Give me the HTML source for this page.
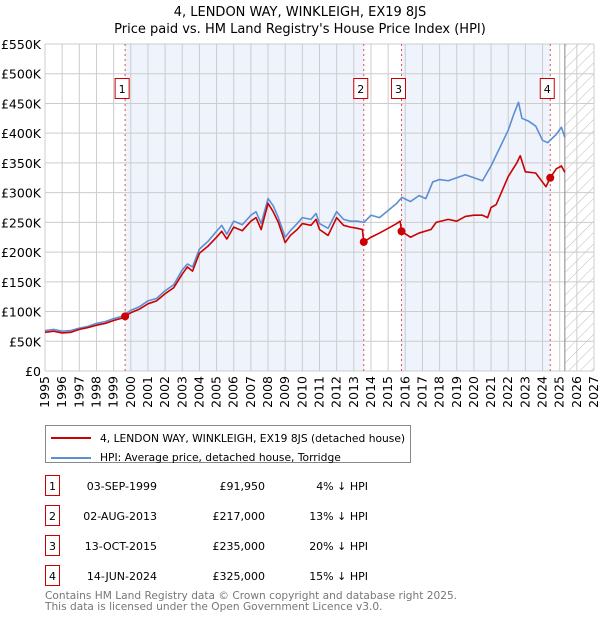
<!DOCTYPE html>
<html><head><meta charset="utf-8"><style>
body{margin:0;background:#fff;font-family:"DejaVu Sans","Liberation Sans",sans-serif;}
svg text{font-family:"DejaVu Sans","Liberation Sans",sans-serif;}
</style></head><body>
<svg id="c" width="600" height="620" viewBox="0 0 600 620">
<defs><pattern id="hatch" width="8" height="8" patternUnits="userSpaceOnUse" patternTransform="rotate(45)"><line x1="0" y1="0" x2="0" y2="8" stroke="#bbb" stroke-width="1"/></pattern></defs>
<text x="300" y="16" text-anchor="middle" font-size="13">4, LENDON WAY, WINKLEIGH, EX19 8JS</text>
<text x="300" y="33" text-anchor="middle" font-size="13">Price paid vs. HM Land Registry's House Price Index (HPI)</text>
<g id="plot"></g>
<g>
<rect x="45.5" y="425.5" width="365" height="37" fill="#fff" stroke="#888"/>
<line x1="51" y1="438" x2="91" y2="438" stroke="#cc0000" stroke-width="2"/>
<text x="100" y="442" font-size="10.7">4, LENDON WAY, WINKLEIGH, EX19 8JS (detached house)</text>
<line x1="51" y1="458" x2="91" y2="458" stroke="#5b8fd4" stroke-width="2"/>
<text x="100" y="461" font-size="10.7">HPI: Average price, detached house, Torridge</text>
</g>
<g id="table" font-size="11"></g>
<text x="45" y="599" font-size="10.6" fill="#777">Contains HM Land Registry data © Crown copyright and database right 2025.</text>
<text x="45" y="610" font-size="10.6" fill="#777">This data is licensed under the Open Government Licence v3.0.</text>
</svg>
<script>
const hpiYears=[1995.0,1995.5,1996.0,1996.5,1997.0,1997.5,1998.0,1998.5,1999.0,1999.5,2000.0,2000.5,2001.0,2001.5,2002.0,2002.5,2003.0,2003.3,2003.6,2004.0,2004.5,2005.0,2005.3,2005.6,2006.0,2006.5,2007.0,2007.3,2007.6,2008.0,2008.3,2008.6,2009.0,2009.3,2009.7,2010.0,2010.5,2010.8,2011.0,2011.5,2012.0,2012.4,2012.8,2013.2,2013.6,2014.0,2014.5,2015.0,2015.5,2015.8,2016.3,2016.8,2017.2,2017.6,2018.0,2018.5,2019.0,2019.5,2020.0,2020.5,2021.0,2021.5,2022.0,2022.3,2022.6,2022.8,2023.2,2023.6,2024.0,2024.3,2024.8,2025.1,2025.3];
const hpiValues=[68,70,67,68,72,75,80,83,88,92,102,108,118,122,135,145,170,180,175,205,218,235,245,230,252,246,262,268,248,290,278,258,225,236,248,258,255,265,248,240,268,255,252,252,250,262,258,270,282,292,285,295,290,318,322,320,325,330,325,320,345,375,405,430,452,425,420,412,388,384,398,410,393];
const priceYears=[1995.0,1995.5,1996.0,1996.5,1997.0,1997.5,1998.0,1998.5,1999.0,1999.5,1999.67,2000.0,2000.5,2001.0,2001.5,2002.0,2002.5,2003.0,2003.3,2003.6,2004.0,2004.5,2005.0,2005.3,2005.6,2006.0,2006.5,2007.0,2007.3,2007.6,2008.0,2008.3,2008.6,2009.0,2009.3,2009.7,2010.0,2010.5,2010.8,2011.0,2011.5,2012.0,2012.4,2012.8,2013.2,2013.5,2013.58,2014.0,2014.5,2015.0,2015.5,2015.7,2015.78,2016.3,2016.8,2017.5,2017.8,2018.5,2019.0,2019.5,2020.0,2020.5,2020.8,2021.0,2021.3,2022.0,2022.5,2022.7,2023.0,2023.6,2024.2,2024.45,2024.8,2025.1,2025.3];
const priceValues=[65,67,64,65,70,73,77,80,85,89,92,98,104,113,118,130,140,163,175,168,198,210,225,235,222,242,236,252,258,238,282,268,250,216,228,238,248,245,255,238,228,258,245,242,240,238,217,225,232,240,248,252,235,225,232,238,250,255,252,260,262,262,258,275,280,327,350,362,335,333,310,325,340,345,334];
const saleLabels=["1","2","3","4"];
const saleYears=[1999.67,2013.58,2015.78,2024.45];
const saleValues=[91.95,217,235,325];
const saleDates=["03-SEP-1999","02-AUG-2013","13-OCT-2015","14-JUN-2024"];
const salePrices=["£91,950","£217,000","£235,000","£325,000"];
const saleDiffs=["4% ↓ HPI","13% ↓ HPI","20% ↓ HPI","15% ↓ HPI"];
const yTicks=[0,50,100,150,200,250,300,350,400,450,500,550];
const yTickLabels=["£0","£50K","£100K","£150K","£200K","£250K","£300K","£350K","£400K","£450K","£500K","£550K"];
const xTicks=[1995,1996,1997,1998,1999,2000,2001,2002,2003,2004,2005,2006,2007,2008,2009,2010,2011,2012,2013,2014,2015,2016,2017,2018,2019,2020,2021,2022,2023,2024,2025,2026,2027];

const L=45,R=594,T=44,B=371,X0=1995,X1=2027,YMAX=550;
const x=v=>L+(v-X0)/(X1-X0)*(R-L);
const y=v=>B-v/YMAX*(B-T);
const NS="http://www.w3.org/2000/svg";
const plot=document.getElementById('plot');
function mk(tag,attrs,parent){const e=document.createElementNS(NS,tag);for(const k in attrs)e.setAttribute(k,attrs[k]);(parent||plot).appendChild(e);return e;}

let e;
for(let i=0;i<saleYears.length;i+=2){
 e=mk('rect',{x:x(saleYears[i]),y:T,width:x(saleYears[i+1])-x(saleYears[i]),height:B-T,fill:'#eef3fc'});
 
 
}
e=mk('rect',{x:x(2025.3),y:T,width:R-x(2025.3),height:B-T,fill:'url(#hatch)'});


xTicks.forEach((t,i)=>{
 e=mk('line',{x1:x(t),x2:x(t),y1:T,y2:B,stroke:'#ccc','stroke-width':1});
 
 
 const tx=x(t)+4,ty=B+5;
 e=mk('text',{x:tx,y:ty,'font-size':12.5,'text-anchor':'end',transform:`rotate(-90 ${tx} ${ty})`});
 e.textContent=t;
 
 
});
yTicks.forEach((t,i)=>{
 e=mk('line',{x1:L,x2:R,y1:y(t),y2:y(t),stroke:'#ccc','stroke-width':1});
 
 
 e=mk('text',{x:L-4,y:y(t)+5,'font-size':12.5,'text-anchor':'end'});
 e.textContent=yTickLabels[i];
 
 
});
e=mk('line',{x1:x(2025.3),x2:x(2025.3),y1:T,y2:B,stroke:'#888','stroke-width':1});


saleYears.forEach((s,i)=>{
 e=mk('line',{x1:x(s),x2:x(s),y1:T,y2:B,stroke:'#e05050','stroke-width':1,'stroke-dasharray':'2,3'});
 
 
 e=mk('rect',{x:x(s)-10,y:78.5,width:14,height:20,fill:'#fff',stroke:'#cc0000','stroke-width':1});
 
 
 e=mk('text',{x:x(s)-3,y:93,'font-size':11,'text-anchor':'middle'});
 e.textContent=saleLabels[i];
 
 
});
e=mk('polyline',{points:hpiYears.map((v,i)=>x(v)+','+y(hpiValues[i])).join(' '),fill:'none',stroke:'#5b8fd4','stroke-width':1.6,'stroke-linejoin':'round'});


e=mk('polyline',{points:priceYears.map((v,i)=>x(v)+','+y(priceValues[i])).join(' '),fill:'none',stroke:'#cc0000','stroke-width':1.6,'stroke-linejoin':'round'});


saleYears.forEach((s,i)=>{
 e=mk('circle',{cx:x(s),cy:y(saleValues[i]),r:4,fill:'#cc0000'});
 
 
});
const tb=document.getElementById('table');
saleLabels.forEach((l,i)=>{
 const cy=487+i*30;
 e=mk('rect',{x:45.5,y:cy-11.5,width:14,height:20,fill:'#fff',stroke:'#cc0000'},tb);
 
 
 e=mk('text',{x:52.5,y:cy+3,'text-anchor':'middle'},tb);e.textContent=l;
 
 
 e=mk('text',{x:157,y:cy+3,'text-anchor':'end'},tb);e.textContent=saleDates[i];
 
 
 e=mk('text',{x:265,y:cy+3,'text-anchor':'end'},tb);e.textContent=salePrices[i];
 
 
 e=mk('text',{x:368,y:cy+3,'text-anchor':'end'},tb);e.textContent=saleDiffs[i];
 
 
});
</script>
</body></html>
